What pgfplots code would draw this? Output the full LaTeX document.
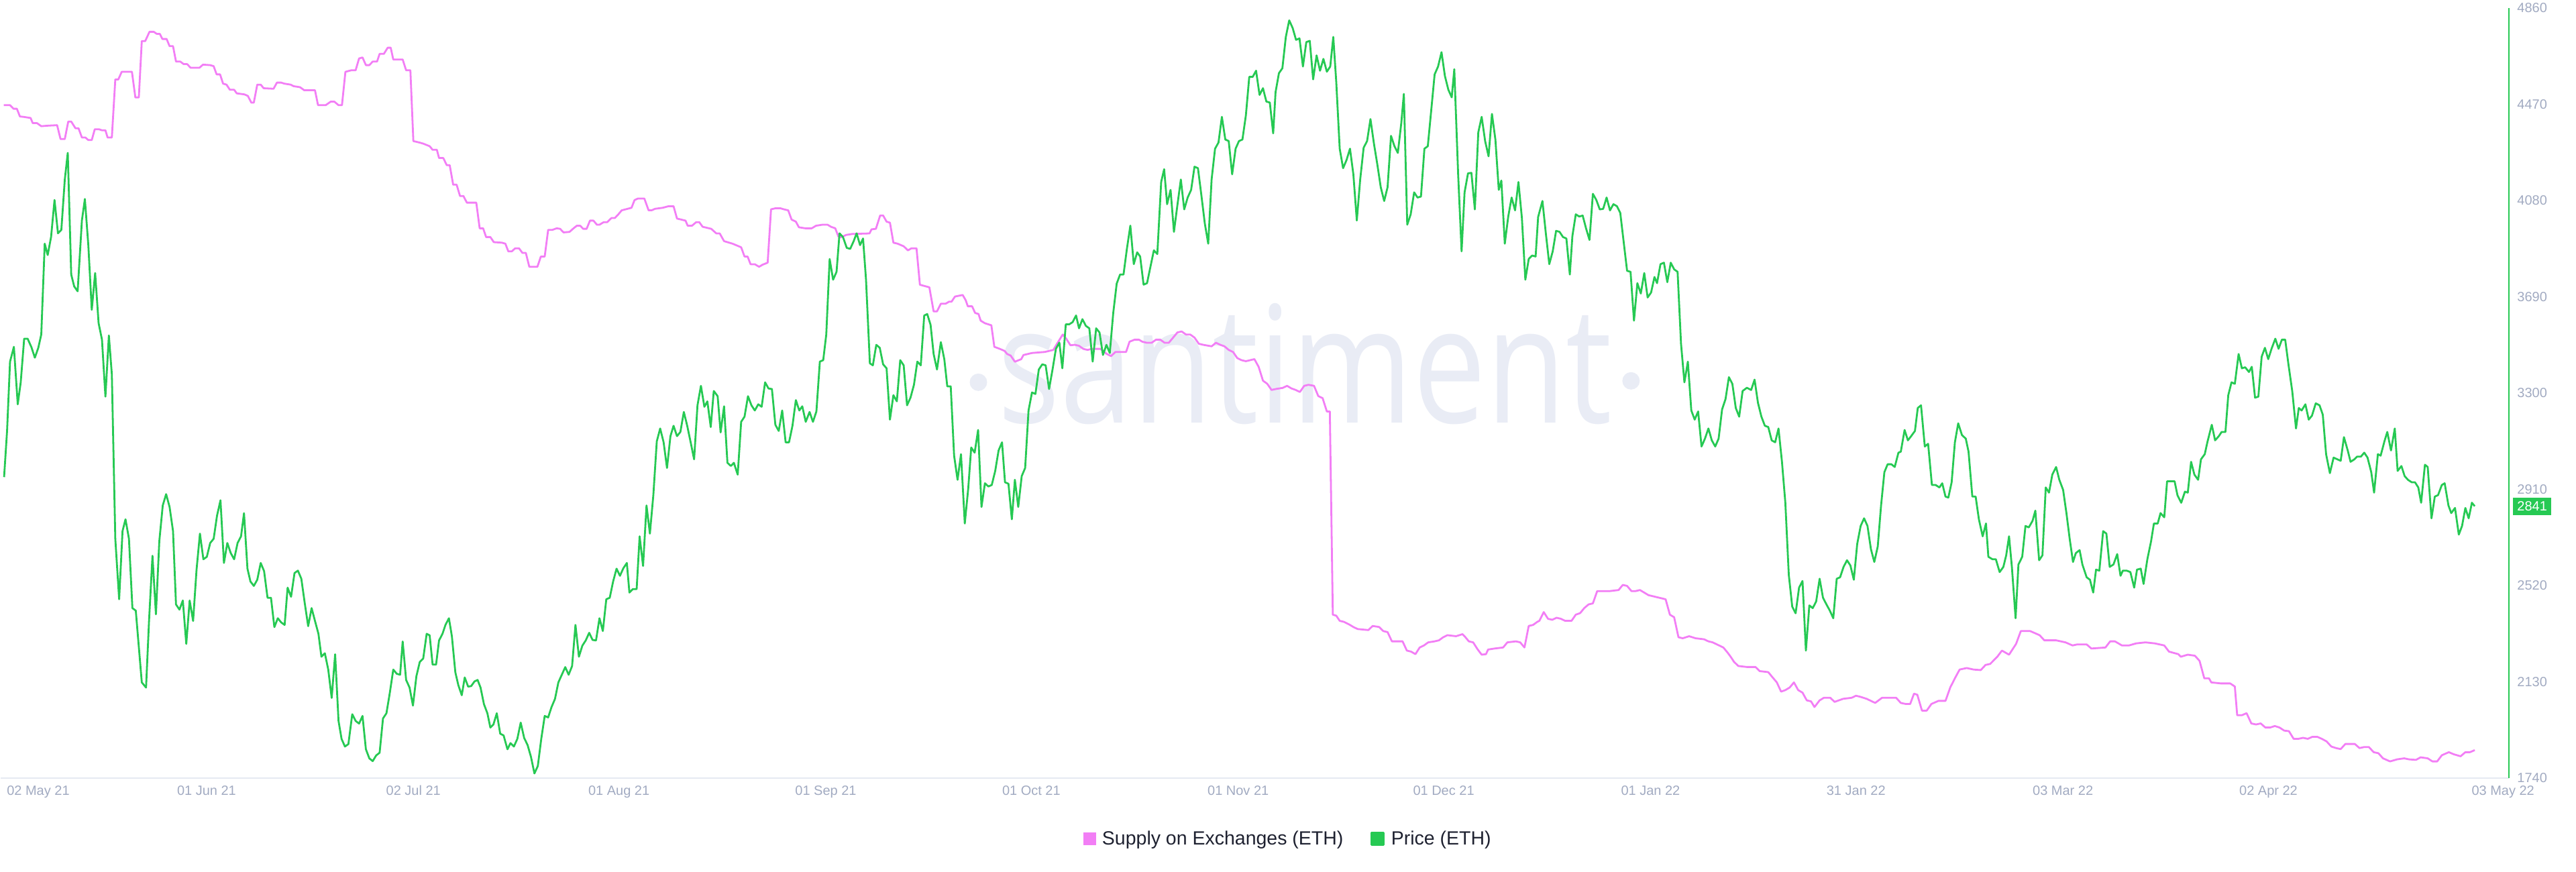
\documentclass[border=0pt]{standalone}
\usepackage{pgfplots}
\usepackage{pgfplotstable}
\pgfplotsset{compat=1.18}
\usepackage{fontspec}
\setmainfont{Liberation Sans}
\newfontfamily\wmfont{Open Sans}
\definecolor{pinkc}{HTML}{F27EF5}
\definecolor{greenc}{HTML}{26C953}
\definecolor{tickc}{HTML}{A1AAC1}
\definecolor{gridc}{HTML}{E5E9F2}
\definecolor{wmc}{HTML}{E9ECF5}
\definecolor{legc}{HTML}{1E2130}

% Price (ETH) -- day index from 02 May 2021
\pgfplotstableread{
d p
0.05 2959
0.49 3146
0.93 3427
1.50 3487
2.07 3254
2.51 3343
3.02 3520
3.53 3520
4.10 3485
4.60 3443
5.11 3483
5.55 3537
6.06 3905
6.50 3859
7.00 3932
7.51 4082
8.02 3947
8.52 3961
9.03 4165
9.47 4273
9.98 3780
10.42 3732
10.93 3712
11.56 3999
12.00 4086
12.51 3899
13.02 3637
13.52 3786
14.03 3583
14.53 3516
15.04 3285
15.55 3533
15.99 3375
16.50 2709
17.07 2464
17.57 2740
18.01 2788
18.52 2709
19.03 2428
19.53 2418
20.42 2127
21.05 2106
21.49 2376
22.00 2640
22.51 2403
23.01 2699
23.52 2844
24.02 2890
24.53 2838
25.04 2740
25.48 2443
25.99 2422
26.49 2459
27.00 2283
27.50 2459
28.01 2376
28.52 2584
29.02 2730
29.53 2626
30.04 2636
30.54 2692
31.05 2709
31.55 2803
32.06 2865
32.57 2611
33.07 2692
33.58 2651
34.08 2626
34.59 2692
35.10 2719
35.54 2813
36.05 2588
36.49 2536
36.99 2518
37.50 2543
38.01 2611
38.51 2578
39.02 2470
39.53 2470
40.03 2351
40.54 2387
41.04 2370
41.55 2360
41.99 2511
42.50 2474
43.01 2570
43.51 2580
44.02 2547
44.52 2449
45.03 2355
45.54 2428
46.04 2376
46.55 2324
46.99 2231
47.50 2245
48.00 2179
48.51 2064
49.02 2241
49.52 1971
49.97 1898
50.47 1867
50.98 1877
51.55 1998
52.05 1971
52.56 1960
53.07 1991
53.57 1856
54.08 1819
54.58 1808
55.09 1831
55.60 1842
56.10 1981
56.61 2002
57.11 2085
57.62 2179
58.13 2162
58.63 2158
59.01 2293
59.52 2137
60.03 2106
60.53 2033
61.04 2152
61.54 2210
62.05 2224
62.56 2324
63.00 2318
63.44 2199
63.95 2199
64.39 2297
64.90 2324
65.34 2360
65.85 2387
66.29 2314
66.80 2168
67.24 2116
67.75 2075
68.19 2147
68.69 2110
69.14 2112
69.64 2131
70.09 2137
70.53 2106
71.03 2039
71.54 2002
71.98 1944
72.43 1956
72.93 2002
73.44 1919
73.94 1912
74.51 1856
74.96 1881
75.46 1867
75.97 1898
76.47 1964
76.98 1902
77.49 1873
77.99 1825
78.50 1758
79.00 1788
79.51 1898
80.02 1991
80.53 1985
81.03 2027
81.54 2060
82.04 2127
82.55 2158
83.06 2189
83.56 2158
84.07 2193
84.57 2360
85.08 2231
85.59 2276
86.09 2297
86.60 2328
87.10 2299
87.61 2297
88.12 2387
88.62 2335
89.13 2464
89.64 2470
90.14 2536
90.65 2588
91.15 2559
91.66 2590
92.17 2611
92.55 2491
93.05 2505
93.62 2505
94.06 2719
94.57 2599
95.08 2844
95.58 2730
96.09 2886
96.60 3104
97.10 3156
97.61 3100
98.11 2996
98.62 3125
99.08 3167
99.59 3125
100.09 3142
100.60 3223
101.10 3167
101.61 3100
102.12 3031
102.62 3250
103.13 3329
103.64 3244
104.08 3266
104.58 3162
105.03 3308
105.60 3287
106.04 3140
106.55 3246
107.05 3017
107.56 3004
108.00 3017
108.57 2969
109.08 3183
109.58 3204
110.09 3287
110.60 3250
111.10 3229
111.61 3254
112.11 3244
112.62 3343
113.13 3318
113.63 3316
114.14 3171
114.64 3146
115.15 3229
115.66 3100
116.16 3100
116.67 3167
117.17 3271
117.68 3229
118.12 3246
118.63 3183
119.20 3223
119.70 3183
120.21 3225
120.72 3427
121.22 3433
121.67 3537
122.17 3843
122.68 3759
123.19 3791
123.63 3947
124.14 3932
124.70 3888
125.21 3884
125.72 3915
126.16 3947
126.67 3899
127.11 3926
127.55 3759
128.12 3420
128.56 3412
129.07 3495
129.58 3483
130.08 3416
130.59 3400
131.09 3192
131.60 3291
132.11 3266
132.61 3433
133.12 3412
133.62 3250
134.13 3281
134.64 3333
135.14 3427
135.65 3412
136.16 3614
136.60 3620
137.10 3576
137.55 3458
138.05 3395
138.62 3506
139.13 3437
139.57 3327
140.08 3327
140.58 3046
141.09 2948
141.60 3052
142.16 2771
142.67 2913
143.11 3079
143.62 3058
144.13 3150
144.63 2838
145.14 2934
145.65 2921
146.15 2927
146.66 2984
147.16 3067
147.67 3100
148.11 2938
148.62 2932
149.12 2788
149.57 2948
150.07 2838
150.58 2963
151.09 2996
151.59 3229
152.10 3302
152.61 3296
153.11 3395
153.62 3416
154.12 3412
154.63 3316
155.14 3395
155.64 3479
156.15 3504
156.59 3400
157.10 3578
157.60 3578
158.11 3587
158.62 3614
159.06 3562
159.56 3599
160.07 3572
160.58 3562
161.08 3427
161.59 3562
162.09 3545
162.60 3454
163.11 3495
163.61 3462
164.12 3624
164.63 3743
165.13 3780
165.64 3780
166.14 3884
166.65 3978
167.16 3822
167.66 3870
168.10 3853
168.61 3739
169.12 3745
169.62 3811
170.13 3878
170.64 3863
171.21 4155
171.65 4207
172.09 4065
172.60 4123
173.10 3953
173.61 4061
174.12 4165
174.62 4044
175.13 4092
175.64 4123
176.14 4217
176.65 4211
177.15 4103
177.66 3988
178.17 3905
178.67 4165
179.18 4290
179.69 4315
180.19 4419
180.70 4327
181.20 4321
181.71 4186
182.22 4290
182.72 4321
183.23 4327
183.74 4425
184.24 4581
184.75 4581
185.25 4606
185.76 4508
186.27 4535
186.77 4481
187.28 4477
187.78 4352
188.13 4519
188.63 4596
189.14 4616
189.65 4743
190.15 4810
190.66 4779
191.16 4731
191.67 4737
192.18 4623
192.68 4722
193.19 4727
193.69 4571
194.20 4668
194.71 4606
195.21 4654
195.72 4602
196.22 4623
196.67 4743
197.11 4560
197.62 4290
198.12 4211
198.63 4244
199.14 4290
199.64 4186
200.15 3999
200.65 4165
201.16 4294
201.67 4321
202.17 4410
202.68 4311
203.18 4227
203.69 4134
204.20 4078
204.70 4134
205.21 4342
205.72 4300
206.22 4273
206.73 4394
207.11 4512
207.61 3982
208.12 4024
208.63 4113
209.13 4092
209.64 4096
210.15 4290
210.65 4300
211.16 4446
211.66 4591
212.17 4623
212.68 4681
213.18 4585
213.69 4529
214.19 4498
214.57 4612
215.14 4186
215.65 3874
216.09 4113
216.60 4190
217.10 4192
217.61 4044
218.12 4356
218.62 4419
219.13 4321
219.64 4259
220.14 4431
220.65 4327
221.15 4123
221.53 4161
222.04 3905
222.55 4015
223.05 4092
223.56 4040
224.06 4155
224.57 4009
225.08 3759
225.58 3843
226.09 3857
226.60 3853
226.97 4013
227.61 4078
228.11 3947
228.62 3822
229.13 3874
229.63 3957
230.14 3953
230.65 3932
231.15 3926
231.66 3780
232.04 3936
232.54 4024
233.05 4015
233.56 4019
234.06 3967
234.57 3920
235.07 4107
235.58 4082
236.09 4044
236.59 4046
237.10 4092
237.60 4040
238.11 4065
238.62 4057
239.12 4030
239.63 3911
240.13 3795
240.64 3791
241.15 3593
241.65 3745
242.16 3703
242.67 3786
243.17 3687
243.68 3707
244.18 3770
244.56 3745
245.07 3822
245.58 3828
246.08 3749
246.59 3828
247.09 3801
247.60 3791
248.11 3499
248.61 3343
249.12 3427
249.63 3229
250.13 3192
250.64 3225
251.14 3083
251.65 3115
252.16 3156
252.66 3108
253.17 3083
253.67 3115
254.18 3233
254.69 3275
255.19 3364
255.70 3337
256.21 3239
256.71 3204
257.22 3308
257.85 3321
258.48 3312
258.99 3354
259.49 3260
260.00 3204
260.51 3167
261.01 3162
261.52 3108
262.03 3100
262.53 3156
263.04 3021
263.54 2855
264.05 2563
264.56 2434
265.06 2407
265.57 2511
266.08 2538
266.58 2256
267.09 2439
267.59 2428
268.10 2455
268.61 2547
269.11 2470
269.62 2443
270.12 2418
270.63 2387
271.14 2547
271.64 2553
272.15 2595
272.66 2622
273.16 2601
273.67 2543
274.17 2688
274.68 2761
275.19 2792
275.69 2761
276.20 2667
276.70 2615
277.21 2678
277.70 2844
278.19 2979
278.67 3011
279.23 3011
279.72 3000
280.27 3058
280.62 3062
281.18 3150
281.67 3108
282.15 3125
282.71 3146
283.13 3239
283.61 3250
284.17 3083
284.66 3094
285.22 2927
285.77 2927
286.33 2917
286.75 2934
287.23 2880
287.65 2876
288.14 2938
288.62 3100
289.11 3177
289.67 3129
290.23 3115
290.64 3062
291.20 2880
291.69 2880
292.17 2788
292.73 2719
293.22 2771
293.57 2636
294.19 2626
294.68 2626
295.24 2574
295.79 2595
296.21 2642
296.63 2719
297.05 2595
297.60 2387
298.02 2605
298.58 2636
299.06 2761
299.55 2755
300.11 2782
300.52 2823
301.08 2622
301.57 2642
302.06 2917
302.54 2896
303.03 2969
303.59 3000
304.07 2948
304.63 2907
305.12 2813
305.60 2709
306.09 2615
306.51 2651
307.07 2663
307.48 2605
308.11 2553
308.60 2543
309.08 2491
309.50 2584
309.99 2580
310.55 2740
311.03 2730
311.52 2595
312.08 2605
312.63 2647
313.12 2559
313.47 2580
314.03 2580
314.58 2574
315.14 2511
315.56 2584
316.11 2588
316.53 2526
317.09 2626
317.64 2699
318.06 2771
318.62 2771
319.04 2813
319.59 2796
320.01 2942
320.57 2942
321.12 2942
321.54 2886
322.10 2855
322.65 2900
323.07 2896
323.56 3021
324.05 2969
324.60 2948
325.02 3031
325.58 3052
326.00 3104
326.62 3171
327.11 3108
327.66 3125
328.08 3142
328.64 3142
329.06 3291
329.54 3343
330.03 3337
330.59 3458
331.07 3400
331.56 3404
332.12 3385
332.54 3406
333.02 3281
333.51 3285
334.00 3447
334.48 3483
334.97 3437
335.46 3479
336.02 3520
336.50 3479
336.99 3516
337.48 3516
337.96 3416
338.52 3308
339.08 3156
339.49 3239
339.91 3229
340.47 3254
340.96 3192
341.44 3208
342.00 3258
342.56 3250
343.04 3212
343.53 3052
344.09 2975
344.64 3038
345.20 3031
345.69 3025
346.17 3121
346.73 3067
347.15 3021
347.71 3031
348.12 3042
348.68 3042
349.17 3058
349.66 3038
350.21 2979
350.63 2896
351.19 3052
351.60 3046
352.16 3104
352.58 3142
353.13 3067
353.69 3156
354.11 2984
354.67 3004
355.15 2963
355.64 2948
356.20 2938
356.68 2938
357.17 2917
357.59 2855
358.15 3009
358.56 3000
359.12 2792
359.61 2880
360.09 2886
360.65 2927
361.07 2934
361.63 2844
362.04 2813
362.60 2834
363.16 2726
363.64 2761
364.13 2834
364.62 2792
365.10 2855
365.52 2841
}\price

% Supply on Exchanges (million ETH, unlabelled axis)
\pgfplotstableread{
d s
0.00 27.95
0.93 27.95
1.44 27.88
1.94 27.88
2.39 27.73
3.02 27.72
3.97 27.70
4.29 27.60
4.92 27.60
5.55 27.54
6.50 27.55
7.89 27.56
8.40 27.29
9.03 27.29
9.54 27.63
9.98 27.63
10.61 27.50
11.06 27.50
11.56 27.32
12.07 27.32
12.51 27.27
13.02 27.27
13.46 27.48
14.09 27.48
14.53 27.46
15.04 27.46
15.36 27.32
15.99 27.32
16.50 28.45
16.94 28.45
17.45 28.60
18.96 28.60
19.47 28.10
19.98 28.10
20.42 29.20
20.93 29.20
21.56 29.38
22.19 29.38
22.63 29.34
23.08 29.34
23.46 29.24
24.09 29.24
24.53 29.10
25.04 29.10
25.48 28.80
26.11 28.80
26.62 28.75
27.13 28.75
27.63 28.68
28.96 28.68
29.47 28.74
30.54 28.73
31.05 28.71
31.49 28.55
32.00 28.55
32.44 28.37
32.95 28.35
33.45 28.25
34.08 28.25
34.47 28.18
35.60 28.16
36.11 28.13
36.62 28.00
36.99 28.00
37.50 28.35
38.01 28.35
38.45 28.28
39.91 28.27
40.41 28.39
41.04 28.39
41.49 28.37
42.44 28.35
42.88 28.32
43.83 28.30
44.46 28.24
46.04 28.24
46.49 27.95
47.62 27.95
48.38 28.02
48.89 28.02
49.52 27.95
50.03 27.95
50.54 28.60
51.42 28.63
52.05 28.63
52.56 28.86
53.07 28.88
53.57 28.73
54.08 28.73
54.58 28.80
55.22 28.80
55.60 28.95
56.23 28.95
56.80 29.07
57.24 29.07
57.62 28.84
59.01 28.84
59.52 28.63
60.15 28.63
60.59 27.25
61.54 27.22
62.05 27.20
63.00 27.15
63.44 27.08
64.07 27.08
64.39 26.92
65.02 26.92
65.53 26.78
65.97 26.78
66.48 26.40
66.99 26.40
67.49 26.18
68.00 26.18
68.50 26.05
69.90 26.05
70.40 25.55
70.91 25.55
71.35 25.38
71.98 25.38
72.49 25.28
73.69 25.27
74.20 25.25
74.64 25.10
75.15 25.10
75.65 25.16
76.22 25.16
76.73 25.07
77.23 25.07
77.74 24.80
78.94 24.80
79.45 25.00
80.02 25.00
80.53 25.52
81.16 25.52
81.79 25.55
82.30 25.54
82.80 25.47
83.69 25.48
84.20 25.54
84.76 25.60
85.27 25.60
85.71 25.54
86.22 25.54
86.72 25.70
87.23 25.70
87.74 25.62
88.12 25.62
88.75 25.67
89.26 25.67
89.89 25.75
90.39 25.75
90.90 25.82
91.41 25.90
92.86 25.95
93.31 26.10
93.81 26.13
94.76 26.13
95.39 25.90
95.83 25.90
96.34 25.93
97.48 25.95
98.32 25.98
99.08 25.98
99.59 25.74
100.22 25.72
100.85 25.70
101.17 25.60
101.80 25.60
102.43 25.67
102.88 25.67
103.38 25.58
104.65 25.54
105.41 25.45
105.91 25.45
106.55 25.30
107.81 25.25
109.08 25.18
109.58 25.00
110.03 25.00
110.47 24.85
111.10 24.85
111.73 24.80
112.24 24.84
113.00 24.88
113.50 25.92
114.14 25.94
114.90 25.94
115.40 25.92
116.04 25.90
116.54 25.72
117.17 25.68
117.62 25.57
118.57 25.55
119.52 25.55
120.15 25.60
121.10 25.62
121.86 25.62
122.36 25.58
123.00 25.55
123.50 25.38
124.01 25.38
124.58 25.42
125.53 25.44
128.06 25.45
128.37 25.53
129.01 25.54
129.64 25.80
130.08 25.80
130.59 25.68
131.09 25.66
131.60 25.27
132.23 25.25
133.12 25.20
133.75 25.12
134.26 25.16
135.02 25.16
135.52 24.45
136.92 24.40
137.55 23.93
138.05 23.93
138.62 24.08
139.32 24.08
139.83 24.12
140.20 24.12
140.71 24.22
141.85 24.25
142.29 24.15
142.61 24.03
143.24 24.03
143.69 23.90
144.19 23.88
144.51 23.75
145.14 23.70
146.09 23.66
146.53 23.24
147.35 23.20
148.05 23.16
148.43 23.10
148.94 23.07
149.57 22.95
150.52 23.00
150.83 23.08
152.10 23.12
154.00 23.14
154.63 23.16
155.26 23.18
155.90 23.32
156.65 23.48
157.16 23.40
157.79 23.27
158.43 23.28
159.06 23.26
159.69 23.20
160.32 23.18
160.96 23.20
162.22 23.20
163.17 23.10
163.80 23.06
164.44 23.14
166.02 23.14
166.53 23.34
167.28 23.38
167.92 23.38
168.42 23.34
169.06 23.32
169.81 23.32
170.45 23.38
171.08 23.38
171.71 23.32
172.34 23.32
172.98 23.42
173.61 23.52
174.24 23.54
174.88 23.48
175.51 23.48
176.14 23.42
176.78 23.30
177.41 23.28
178.67 23.25
179.31 23.32
179.94 23.28
180.57 23.25
181.20 23.18
181.84 23.14
182.47 23.02
183.10 22.98
183.74 22.96
185.00 23.00
185.63 22.85
186.27 22.58
186.90 22.52
187.53 22.40
188.25 22.42
189.20 22.44
189.83 22.48
190.47 22.43
191.10 22.40
191.73 22.36
192.37 22.48
193.00 22.50
193.82 22.48
194.45 22.28
195.09 22.24
195.72 21.98
196.16 21.98
196.60 18.02
197.11 18.00
197.62 17.90
198.25 17.88
199.01 17.83
199.64 17.78
200.27 17.74
201.86 17.72
202.49 17.80
203.44 17.78
204.07 17.70
204.70 17.68
205.34 17.50
206.92 17.50
207.55 17.32
208.18 17.30
208.82 17.25
209.45 17.38
210.08 17.42
210.71 17.48
211.66 17.50
212.30 17.52
212.93 17.58
213.56 17.62
214.83 17.60
215.78 17.64
216.09 17.60
216.72 17.50
217.36 17.48
217.99 17.35
218.62 17.24
219.26 17.25
219.57 17.34
220.52 17.36
221.79 17.38
222.42 17.48
223.68 17.50
224.32 17.48
224.95 17.38
225.58 17.80
226.22 17.82
226.85 17.88
227.16 17.90
227.80 18.07
228.43 17.94
229.06 17.92
229.70 17.96
230.33 17.94
230.96 17.90
231.91 17.90
232.54 18.02
233.18 18.05
233.81 18.15
234.44 18.22
235.07 18.24
235.71 18.48
236.34 18.48
237.60 18.48
238.87 18.50
239.50 18.60
240.13 18.58
240.77 18.48
241.40 18.48
242.03 18.50
242.67 18.45
243.30 18.40
243.93 18.38
244.56 18.36
245.83 18.32
246.46 18.02
247.09 17.97
247.73 17.58
248.36 17.56
249.31 17.60
250.26 17.56
251.52 17.54
252.16 17.50
252.79 17.48
253.74 17.42
254.37 17.38
255.00 17.28
255.45 17.20
255.95 17.10
256.58 17.02
257.85 17.00
259.12 17.00
259.75 16.92
261.01 16.90
261.64 16.80
262.28 16.70
262.91 16.52
263.54 16.55
264.18 16.60
264.81 16.70
265.44 16.55
266.08 16.50
266.71 16.35
267.34 16.33
267.85 16.22
268.61 16.35
269.24 16.40
270.19 16.40
270.82 16.32
271.45 16.35
272.09 16.38
273.35 16.40
273.99 16.44
274.62 16.42
275.56 16.38
276.20 16.34
276.83 16.30
277.84 16.40
278.88 16.40
279.93 16.40
280.62 16.30
281.32 16.28
282.01 16.28
282.57 16.48
283.06 16.46
283.75 16.15
284.45 16.15
285.15 16.28
286.19 16.34
287.23 16.34
287.93 16.60
288.62 16.78
289.32 16.95
290.36 16.98
291.41 16.95
292.45 16.94
293.15 17.04
293.84 17.06
294.89 17.20
295.58 17.32
296.63 17.24
297.67 17.45
298.37 17.70
299.76 17.70
300.46 17.66
301.15 17.62
301.85 17.52
303.59 17.52
304.28 17.50
304.98 17.48
306.02 17.42
306.72 17.44
308.11 17.44
308.81 17.36
310.89 17.38
311.59 17.50
312.29 17.50
313.33 17.42
314.37 17.42
315.42 17.46
316.81 17.48
318.20 17.46
319.59 17.42
320.29 17.30
321.68 17.25
322.03 17.20
323.07 17.24
324.12 17.22
324.81 17.12
325.51 16.78
326.20 16.78
326.55 16.70
327.94 16.68
329.34 16.68
330.03 16.62
330.38 16.06
331.07 16.06
331.77 16.10
332.47 15.90
333.16 15.88
333.86 15.90
334.55 15.82
335.25 15.82
335.95 15.85
336.64 15.82
337.34 15.76
338.03 15.75
338.73 15.60
339.43 15.60
340.12 15.62
340.82 15.60
341.51 15.64
342.21 15.64
342.90 15.60
343.60 15.55
344.30 15.45
344.99 15.42
345.69 15.40
346.38 15.50
347.78 15.50
348.47 15.42
349.17 15.44
349.86 15.44
350.56 15.34
351.26 15.32
351.95 15.22
352.99 15.16
354.04 15.20
355.08 15.22
355.78 15.20
356.82 15.19
357.52 15.24
358.56 15.22
359.26 15.16
359.96 15.16
360.65 15.28
361.69 15.34
362.39 15.30
363.43 15.26
364.13 15.34
364.82 15.34
365.52 15.38
}\supply

\pgfplotsset{base/.style={width=1870pt, height=574pt, scale only axis,
  xmin=-0.456, xmax=370.58, clip=false}}

\begin{document}
\begin{tikzpicture}
\begin{axis}[base, hide axis, ymin=14.839, ymax=29.843]
  \node[text=wmc, font=\wmfont\fontsize{121.5pt}{121.5pt}\selectfont,
        xscale=0.8, anchor=base, inner sep=0pt]
        at (rel axis cs:0.5201,0.4608) {santiment};
  \fill[wmc] (rel axis cs:0.3898,0.5139) circle[radius=6.5pt];
  \fill[wmc] (rel axis cs:0.6500,0.5157) circle[radius=6.5pt];
  \addplot[pinkc, line width=1.4pt, line join=round] table[x=d, y=s] {\supply};
\end{axis}
\begin{axis}[base, name=ax, ymin=1740, ymax=4860,
  axis x line*=bottom, axis y line*=right,
  x axis line style={draw=gridc, line width=1pt},
  y axis line style={draw=greenc, line width=1.3pt},
  xtick={5.1,30,60.6,91,121.6,152,182.6,213,243.6,274,304.6,335,369.7},
  xticklabels={02 May 21,01 Jun 21,02 Jul 21,01 Aug 21,01 Sep 21,01 Oct 21,01 Nov 21,01 Dec 21,01 Jan 22,31 Jan 22,03 Mar 22,02 Apr 22,03 May 22},
  ytick={1740,2130,2520,2910,3300,3690,4080,4470,4860},
  yticklabels={1740,2130,2520,2910,3300,3690,4080,4470,4860},
  major tick length=0pt,
  tick label style={font=\fontsize{10pt}{12pt}\selectfont, text=tickc},
  xticklabel style={anchor=base, yshift=-13pt, inner sep=0pt},
  yticklabel style={anchor=west, xshift=6pt, inner sep=0pt},
  legend image code/.code={\fill (0pt,-4.5pt) rectangle (9pt,4.5pt);},
  legend style={at={(0.5134,-0.0793)}, anchor=center, draw=none, fill=none,
    font=\fontsize{14.25pt}{17pt}\selectfont, text=legc, legend columns=2,
    /tikz/every odd column/.append style={column sep=2.8pt},
    /tikz/every even column/.append style={column sep=18.5pt}},
]
  \addlegendimage{pinkc}
  \addlegendentry{Supply on Exchanges (ETH)}
  \addplot[greenc, line width=1.4pt, line join=round] table[x=d, y=p] {\price};
  \addlegendentry{Price (ETH)}
  \node[fill=greenc, text=white, anchor=west, inner xsep=3pt, inner ysep=0pt,
        minimum height=13pt, xshift=3pt, font=\fontsize{10pt}{12pt}\selectfont]
        at (axis cs:370.58,2841) {2841};
\end{axis}
\path ([yshift=-70pt]ax.south west) rectangle ([xshift=50pt,yshift=6pt]ax.north east);
\end{tikzpicture}
\end{document}
